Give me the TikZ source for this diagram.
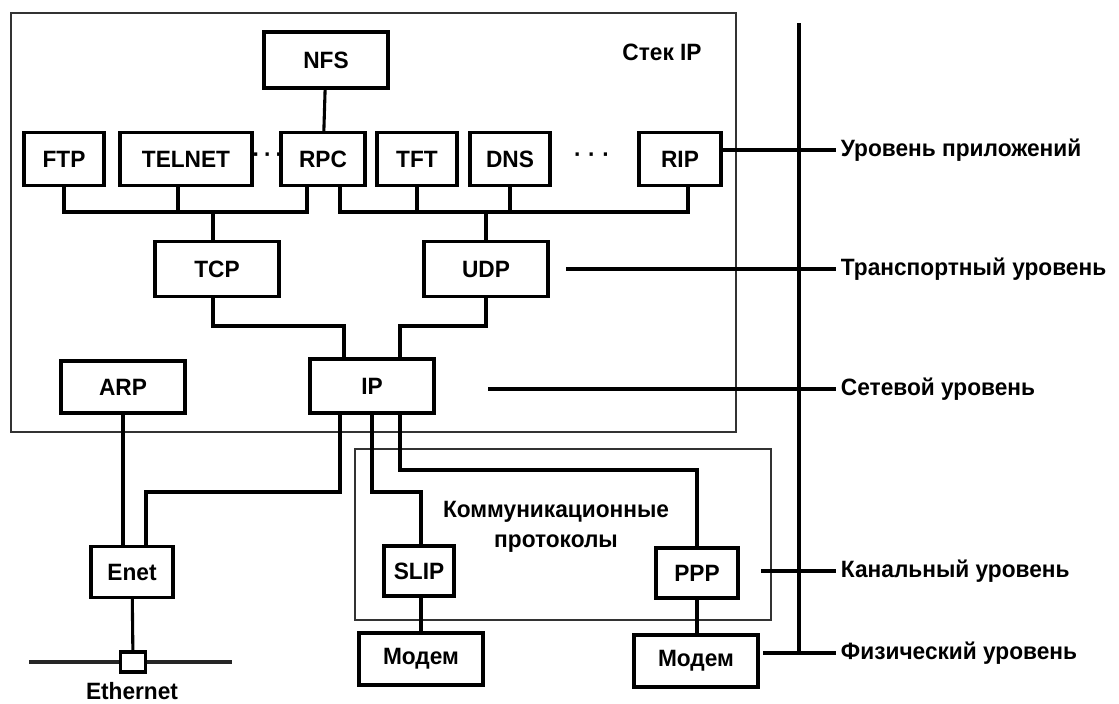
\documentclass[tikz,border=0pt]{standalone}
\usepackage{fontspec}
\newfontfamily\lbl[FakeStretch=0.96]{Liberation Sans}

\begin{document}
\begin{tikzpicture}[x=0.025cm,y=-0.025cm,font=\lbl\bfseries\fontsize{16.8}{21}\selectfont,
  box/.style={draw,line width=2.2pt,fill=white,inner sep=0pt,minimum height=1.33cm},
  wire/.style={line width=2.2pt},
  frame/.style={line width=1.1pt,draw=black!80}]
\useasboundingbox (0,0) rectangle (1119,704);

% frames: IP stack and communication protocols
\draw[frame] (11,13) rectangle (736,432);
\draw[frame] (355,449) rectangle (771,620);
\node (stack) at (662,52) {Стек IP};
\node[align=center] (comm) at (556,527) {Коммуникационные\\протоколы};

% application level
\node[box,minimum width=3.1cm,minimum height=1.4cm] (NFS) at (326,60) {NFS};
\node[box,minimum width=2cm] (FTP) at (64,159) {FTP};
\node[box,minimum width=3.3cm] (TELNET) at (186,159) {TELNET};
\node[box,minimum width=2.1cm] (RPC) at (323,159) {RPC};
\node[box,minimum width=2cm] (TFT) at (417,159) {TFT};
\node[box,minimum width=2cm] (DNS) at (510,159) {DNS};
\node[box,minimum width=2.05cm] (RIP) at (680,159) {RIP};
\node (dotsA) at (268,158) {·\,·\,·};
\node (dotsB) at (592,158) {·\;·\;·};

% transport and network level
\node[box,minimum width=3.1cm,minimum height=1.375cm] (TCP) at (217,269) {TCP};
\node[box,minimum width=3.1cm,minimum height=1.375cm] (UDP) at (486,269) {UDP};
\node[box,minimum width=3.1cm,minimum height=1.35cm] (IP) at (372,386) {IP};
\node[box,minimum width=3.1cm,minimum height=1.3cm] (ARP) at (123,387) {ARP};

% channel and physical level
\node[box,minimum width=2.05cm,minimum height=1.28cm] (Enet) at (132,572) {Enet};
\node[box,minimum width=1.75cm,minimum height=1.25cm] (SLIP) at (419,571) {SLIP};
\node[box,minimum width=2.05cm,minimum height=1.25cm] (PPP) at (697,573) {PPP};
\node[box,minimum width=3.1cm,minimum height=1.3cm] (ModemA) at (421,659) {Модем};
\node[box,minimum width=3.1cm,minimum height=1.3cm] (ModemB) at (696,661) {Модем};

% ethernet segment
\coordinate (ethL) at (29,662);
\coordinate (ethR) at (232,662);
\draw[line width=3pt,black!85] (ethL) -- (ethR);
\node[box,minimum width=0.62cm,minimum height=0.5cm] (tap) at (133,662) {};
\node (ethlbl) at (132,691) {Ethernet};

% connectors
\coordinate (appbus) at (0,212);
\coordinate (trbus) at (0,326);
\coordinate (enbus) at (0,492);
\coordinate (pppbus) at (0,470);
\draw[wire] (NFS) -- (RPC);
\draw[wire] (FTP.south) -- (FTP.south |- appbus) -| ([xshift=-4mm]RPC.south);
\draw[wire] ([xshift=-2mm]TELNET.south) -- ([xshift=-2mm]TELNET.south |- appbus);
\draw[wire] ([xshift=-1mm]TCP.north) -- ([xshift=-1mm]TCP.north |- appbus);
\draw[wire] ([xshift=4.25mm]RPC.south) -- ([xshift=4.25mm]RPC.south |- appbus) -| ([xshift=2mm]RIP.south);
\draw[wire] (TFT.south) -- (TFT.south |- appbus);
\draw[wire] (DNS.south) -- (DNS.south |- appbus);
\draw[wire] (UDP.north) -- (UDP.north |- appbus);
\draw[wire] ([xshift=-1mm]TCP.south) -- ([xshift=-1mm]TCP.south |- trbus) -| ([xshift=-7mm]IP.north);
\draw[wire] (UDP.south) -- (UDP.south |- trbus) -| ([xshift=7mm]IP.north);
\draw[wire] ([xshift=-8mm]IP.south) -- ([xshift=-8mm]IP.south |- enbus) -| ([xshift=3.5mm]Enet.north);
\draw[wire] (IP.south) -- (IP.south |- enbus) -| ([xshift=0.5mm]SLIP.north);
\draw[wire] ([xshift=7mm]IP.south) -- ([xshift=7mm]IP.south |- pppbus) -| (PPP.north);
\draw[wire] (ARP.south) -- (ARP.south |- Enet.north);
\draw[wire] ([xshift=0.5mm]SLIP.south) -- ([xshift=0.5mm]SLIP.south |- ModemA.north);
\draw[wire] (PPP.south) -- (PPP.south |- ModemB.north);
\draw[wire] (Enet) -- (tap);

% model levels
\coordinate (axtop) at (799,23);
\coordinate (axbot) at (799,653);
\draw[wire] (axtop) -- (axbot);
\node[anchor=west] (lvlApp) at (836,150) {Уровень приложений};
\node[anchor=west] (lvlTr) at (836,269) {Транспортный уровень};
\node[anchor=west] (lvlNet) at (836,389) {Сетевой уровень};
\node[anchor=west] (lvlCh) at (836,571) {Канальный уровень};
\node[anchor=west] (lvlPh) at (836,653) {Физический уровень};
\coordinate (trfree) at (566,269);
\coordinate (netfree) at (488,389);
\coordinate (chfree) at (761,571);
\coordinate (phfree) at (763,653);
\draw[wire] (RIP.east |- lvlApp) -- (lvlApp.west);
\draw[wire] (trfree) -- (lvlTr.west);
\draw[wire] (netfree) -- (lvlNet.west);
\draw[wire] (chfree) -- (lvlCh.west);
\draw[wire] (phfree) -- (lvlPh.west);
\end{tikzpicture}
\end{document}
